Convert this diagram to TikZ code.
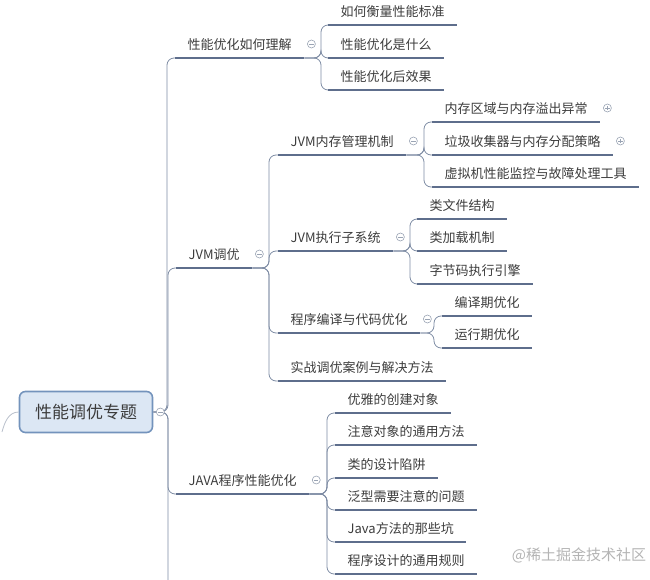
\documentclass[tikz,border=0pt]{standalone}
\usepackage{xcolor}
\usepackage{fontspec}
\usepackage{tikz}
\newfontfamily\cjk{Noto Sans CJK SC}
\definecolor{inkgray}{HTML}{3C3C3C}
\definecolor{slateline}{HTML}{5E6E8C}
\definecolor{branchline}{HTML}{7E8CA4}
\definecolor{foldgray}{HTML}{9AA4B4}
\definecolor{rootfill}{HTML}{DCE7F4}
\definecolor{rootdraw}{HTML}{7393BC}
\definecolor{markgray}{HTML}{B4B4B4}

\tikzset{
  topic/.style={anchor=south west, inner xsep=12.5pt, inner ysep=5pt,
    text height=10pt, text depth=3pt, text=inkgray,
    font=\cjk\fontsize{13}{13}\selectfont},
  uline/.style={draw=slateline, line width=2.2pt},
  conn/.style={draw=branchline, line width=0.8pt, rounded corners=7pt},
  fold/.style={circle, draw=foldgray, fill=white, line width=0.6pt,
    minimum size=8pt, inner sep=0pt,
    path picture={\draw[foldgray, line width=0.6pt]
      ([xshift=-2.2pt]path picture bounding box.center) --
      ([xshift=2.2pt]path picture bounding box.center);}},
  unfold/.style={circle, draw=foldgray, fill=white, line width=0.6pt,
    minimum size=8pt, inner sep=0pt,
    path picture={\draw[foldgray, line width=0.6pt]
      ([xshift=-2.2pt]path picture bounding box.center) --
      ([xshift=2.2pt]path picture bounding box.center)
      ([yshift=-2.2pt]path picture bounding box.center) --
      ([yshift=2.2pt]path picture bounding box.center);}}
}

\begin{document}
\begin{tikzpicture}[x=1pt, y=-1pt]
\useasboundingbox (0,0) rectangle (650,580);

\node[fill=rootfill, draw=rootdraw, rounded corners=6pt, line width=1.6pt,
      minimum width=133pt, minimum height=41pt, text=inkgray,
      font=\cjk\fontsize{17}{17}\selectfont] (root) at (86,412) {性能调优专题};

\node[topic] (understand) at (175,58) {性能优化如何理解};
\node[topic] (jvm) at (176,268) {JVM调优};
\node[topic] (javaperf) at (176,494) {JAVA程序性能优化};

\node[topic] (measure) at (328,25) {如何衡量性能标准};
\node[topic] (what) at (328,58) {性能优化是什么};
\node[topic] (effect) at (328,90) {性能优化后效果};

\node[topic] (memory) at (278,155) {JVM内存管理机制};
\node[topic] (execsys) at (278,251) {JVM执行子系统};
\node[topic] (compile) at (278,333) {程序编译与代码优化};
\node[topic] (cases) at (278,381) {实战调优案例与解决方法};

\node[topic] (areas) at (432,122) {内存区域与内存溢出异常};
\node[topic] (gc) at (432,155) {垃圾收集器与内存分配策略};
\node[topic] (tools) at (432,187) {虚拟机性能监控与故障处理工具};

\node[topic] (classfile) at (417,219) {类文件结构};
\node[topic] (loading) at (417,251) {类加载机制};
\node[topic] (bytecode) at (417,284) {字节码执行引擎};

\node[topic] (early) at (442,316) {编译期优化};
\node[topic] (late) at (442,348) {运行期优化};

\node[topic] (create) at (335,413) {优雅的创建对象};
\node[topic] (common) at (335,445) {注意对象的通用方法};
\node[topic] (traps) at (335,478) {类的设计陷阱};
\node[topic] (generic) at (335,510) {泛型需要注意的问题};
\node[topic] (methods) at (335,542) {Java方法的那些坑};
\node[topic] (rules) at (335,574) {程序设计的通用规则};

\foreach \n in {understand,jvm,javaperf,measure,what,effect,memory,execsys,
  compile,cases,areas,gc,tools,classfile,loading,bytecode,early,late,
  create,common,traps,generic,methods,rules}
  \draw[uline] (\n.south west) -- (\n.south east);

\coordinate (more) at (168,580);
\coordinate (offleft) at (2,432);
\draw[conn, draw=foldgray!70] (root.west) to[out=180, in=75] (offleft);
\draw[conn] (root.east) -| (more);

\foreach \c in {understand,jvm,javaperf}
  \draw[conn] (root.east) -| ([xshift=-8pt]\c.south west) -- (\c.south west);
\foreach \c in {measure,what,effect}
  \draw[conn] (understand.south east) -| ([xshift=-7pt]\c.south west) -- (\c.south west);
\foreach \c in {memory,execsys,compile,cases}
  \draw[conn] (jvm.south east) -| ([xshift=-9pt]\c.south west) -- (\c.south west);
\foreach \c in {areas,gc,tools}
  \draw[conn] (memory.south east) -| ([xshift=-8pt]\c.south west) -- (\c.south west);
\foreach \c in {classfile,loading,bytecode}
  \draw[conn] (execsys.south east) -| ([xshift=-7pt]\c.south west) -- (\c.south west);
\foreach \c in {early,late}
  \draw[conn] (compile.south east) -| ([xshift=-8pt]\c.south west) -- (\c.south west);
\foreach \c in {create,common,traps,generic,methods,rules}
  \draw[conn] (javaperf.south east) -| ([xshift=-8pt]\c.south west) -- (\c.south west);

\node[fold] (rootfold) at ([xshift=7pt]root.east) {};
\node[fold] (understandfold) at ([shift={(7pt,14pt)}]understand.south east) {};
\node[fold] (jvmfold) at ([shift={(7pt,14pt)}]jvm.south east) {};
\node[fold] (javaperffold) at ([shift={(7pt,14pt)}]javaperf.south east) {};
\node[fold] (memoryfold) at ([shift={(7pt,14pt)}]memory.south east) {};
\node[fold] (execsysfold) at ([shift={(7pt,14pt)}]execsys.south east) {};
\node[fold] (compilefold) at ([shift={(7pt,14pt)}]compile.south east) {};
\node[unfold] (areasfold) at ([shift={(7pt,14pt)}]areas.south east) {};
\node[unfold] (gcfold) at ([shift={(7pt,14pt)}]gc.south east) {};

\node[text=markgray, font=\cjk\fontsize{15}{15}\selectfont] (mark) at (579,555) {@稀土掘金技术社区};
\end{tikzpicture}
\end{document}
